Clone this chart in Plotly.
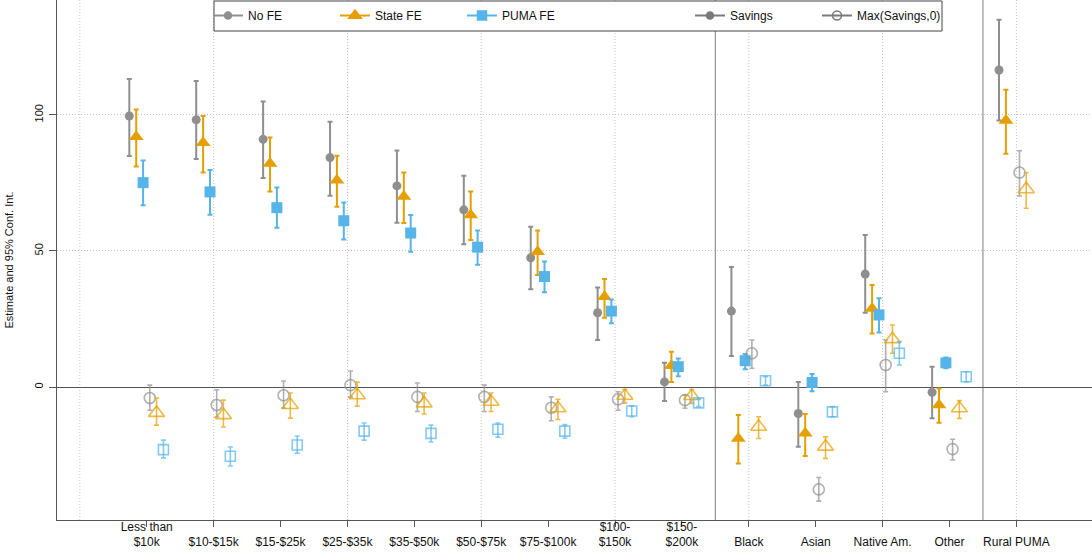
import numpy as np
import plotly.graph_objects as go

# ---------------- data ----------------
categories = ["Less than<br>$10k", "<br>$10-$15k", "<br>$15-$25k", "<br>$25-$35k", "<br>$35-$50k",
              "<br>$50-$75k", "<br>$75-$100k", "$100-<br>$150k", "$150-<br>$200k", "<br>Black",
              "<br>Asian", "<br>Native Am.", "<br>Other", "<br>Rural PUMA"]

no_fe = [99.6, 98.2, 91.0, 84.3, 73.9, 65.1, 47.5, 27.3, 1.9, 27.9, -9.7, 41.5, -1.9, 116.5]
no_fe_lo = [84.9, 83.8, 76.8, 70.3, 60.4, 52.5, 35.9, 17.3, -5.1, 11.4, -21.9, 27.3, -11.5, 97.9]
no_fe_hi = [113.2, 112.4, 104.9, 97.5, 86.9, 77.6, 58.9, 36.6, 8.9, 44.1, 1.9, 55.9, 7.5, 134.9]

state_fe = [92.0, 89.8, 82.1, 76.0, 70.0, 63.2, 49.7, 33.2, 7.8, -18.9, -17.0, 28.9, -6.6, 97.9]
state_fe_lo = [81.0, 78.8, 71.8, 66.2, 60.3, 54.0, 41.2, 25.5, 1.9, -28.1, -25.3, 19.7, -13.1, 85.7]
state_fe_hi = [102.0, 99.6, 91.7, 85.0, 78.8, 71.8, 57.5, 39.7, 13.0, -10.3, -9.9, 37.5, -0.5, 109.2]

puma_fe = [75.1, 71.7, 65.9, 61.1, 56.6, 51.4, 40.6, 27.9, 7.5, 9.7, 1.7, 26.5, 8.9, None]
puma_fe_lo = [66.8, 63.3, 58.5, 54.2, 49.7, 44.9, 34.8, 23.4, 4.0, 6.5, -1.5, 20.0, 6.9, None]
puma_fe_hi = [83.2, 79.7, 73.3, 67.8, 63.2, 57.5, 46.1, 32.2, 10.5, 12.1, 4.8, 32.6, 10.9, None]

max_no_fe = [-4.0, -6.6, -3.0, 0.7, -3.6, -3.6, -7.6, -4.5, -4.8, 12.4, -37.6, 8.1, -22.8, 78.8]
max_no_fe_lo = [-8.5, -11.0, -7.7, -3.7, -9.0, -9.0, -12.4, -8.5, -7.8, 6.9, -41.9, -1.7, -26.8, 70.2]
max_no_fe_hi = [0.7, -1.0, 2.2, 5.9, 1.5, 0.7, -3.6, -1.7, -2.9, 17.3, -33.2, 17.3, -19.2, 86.8]

max_state_fe = [-9.5, -10.3, -6.6, -3.0, -6.0, -5.4, -7.8, -3.2, -3.3, -14.6, -21.9, 17.6, -7.8, 72.7]
max_state_fe_lo = [-14.0, -14.7, -11.4, -7.0, -9.9, -9.0, -11.9, -5.9, -6.0, -18.9, -26.2, 12.4, -11.5, 65.7]
max_state_fe_hi = [-4.0, -4.8, -2.2, 1.8, -2.2, -2.2, -4.5, -0.9, -0.9, -10.9, -18.3, 22.8, -5.0, 78.8]

max_puma_fe = [-23.0, -25.4, -21.3, -16.2, -17.0, -15.5, -16.2, -8.8, -5.8, 2.3, -9.1, 12.4, 3.8, None]
max_puma_fe_lo = [-26.0, -29.0, -24.3, -19.5, -20.2, -18.4, -18.8, -10.9, -7.2, 0.7, -10.9, 8.1, 1.9, None]
max_puma_fe_hi = [-19.5, -22.0, -18.0, -13.2, -14.0, -13.2, -13.8, -6.9, -4.5, 3.8, -7.2, 16.7, 5.6, None]

y_ticks = [0, 50, 100]

# ---------------- style ----------------
GRAY = "#8f8f8f"
ORANGE = "#E69F00"
BLUE = "#56B4E9"
FONT = "Liberation Sans, Arial, sans-serif"

def arr(v):
    return np.array([np.nan if a is None else a for a in v], dtype=float)

pos = np.arange(1, len(categories) + 1, dtype=float)

series = [
    # values, lo, hi, offset, symbol, color, size, marker line width, error line width
    (no_fe, no_fe_lo, no_fe_hi, -0.26, "circle", GRAY, 9, 0, 2.0),
    (state_fe, state_fe_lo, state_fe_hi, -0.157, "triangle-up", ORANGE, 13, 0, 2.0),
    (puma_fe, puma_fe_lo, puma_fe_hi, -0.054, "square", BLUE, 11, 0, 2.0),
    (max_no_fe, max_no_fe_lo, max_no_fe_hi, 0.046, "circle-open", "rgba(143,143,143,0.7)", 11, 1.6, 1.6),
    (max_state_fe, max_state_fe_lo, max_state_fe_hi, 0.147, "triangle-up-open", "rgba(230,159,0,0.72)", 14, 1.6, 1.6),
    (max_puma_fe, max_puma_fe_lo, max_puma_fe_hi, 0.25, "square-open", "rgba(86,180,233,0.72)", 10, 1.6, 1.6),
]

fig = go.Figure()
for vals, lo, hi, off, sym, col, size, lw, elw in series:
    y = arr(vals)
    ylo = arr(lo)
    yhi = arr(hi)
    fig.add_trace(go.Scatter(
        x=pos + off, y=y, mode="markers", showlegend=False, hoverinfo="skip",
        marker=dict(symbol=sym, color=col, size=size, line=dict(width=lw, color=col)),
        error_y=dict(type="data", symmetric=False, array=yhi - y, arrayminus=y - ylo,
                     color=col, thickness=elw, width=2.5),
    ))

# legend entries
leg1 = [("No FE", "circle", GRAY, 7), ("State FE", "triangle-up", ORANGE, 11), ("PUMA FE", "square", BLUE, 9)]
leg2 = [("Savings", "circle", "#7a7a7a", 7), ("Max(Savings,0)", "circle-open", "#7a7a7a", 9)]
for name, sym, col, sz in leg1:
    fig.add_trace(go.Scatter(x=[None], y=[None], mode="lines+markers", name=name, legend="legend",
                             line=dict(color=col, width=2),
                             marker=dict(symbol=sym, color=col, size=sz, line=dict(width=1.5, color=col))))
for name, sym, col, sz in leg2:
    fig.add_trace(go.Scatter(x=[None], y=[None], mode="lines+markers", name=name, legend="legend2",
                             line=dict(color=col, width=2),
                             marker=dict(symbol=sym, color=col, size=sz, line=dict(width=1.5, color=col))))

W, H = 1092, 552
ML, MR, MT, MB = 57, 0, 0, 32
pw, ph = W - ML - MR, H - MT - MB

def px_x(p):
    return (p - ML) / pw

def px_y(p):
    return 1 - (p - MT) / ph

shapes = []
# vertical dotted grid every two categories
for g in range(0, 16, 2):
    shapes.append(dict(type="line", xref="x", yref="paper", x0=g, x1=g, y0=0, y1=1,
                       line=dict(color="#c4c4c4", width=1, dash="1px,2px"), layer="below"))
# group separators
for s in (9.5, 13.5):
    shapes.append(dict(type="line", xref="x", yref="paper", x0=s, x1=s, y0=0, y1=1,
                       line=dict(color="#9a9a9a", width=1.3), layer="below"))
# legend box
shapes.append(dict(type="rect", xref="paper", yref="paper", x0=px_x(214), x1=px_x(942),
                   y0=px_y(31), y1=px_y(1), line=dict(color="#444444", width=1),
                   fillcolor="white", layer="above"))

fig.update_layout(
    width=W, height=H,
    margin=dict(l=ML, r=MR, t=MT, b=MB, autoexpand=False),
    plot_bgcolor="white", paper_bgcolor="white",
    font=dict(family=FONT, size=12, color="#111111"),
    shapes=shapes,
    xaxis=dict(range=[-0.341, 15.13], tickmode="array", tickvals=list(pos), ticktext=categories,
               showgrid=False, zeroline=False, showline=True, linecolor="#555555", linewidth=1.3,
               ticks="outside", ticklen=6, tickcolor="#555555", tickfont=dict(size=12), tickangle=0,
               automargin=False, ticklabelstandoff=-11),
    yaxis=dict(range=[-48.84, 142.2], tickmode="array", tickvals=y_ticks, tickangle=-90,
               showgrid=True, griddash="1px,2px", gridcolor="#c4c4c4", gridwidth=1,
               zeroline=True, zerolinecolor="#555555", zerolinewidth=1.3,
               showline=True, linecolor="#555555", linewidth=1.3,
               ticks="outside", ticklen=7, tickcolor="#555555", tickfont=dict(size=11),
               automargin=False, ticklabelstandoff=1,
               title=dict(text="Estimate and 95% Conf. Int.", font=dict(size=11), standoff=17)),
    legend=dict(orientation="h", x=px_x(208), xanchor="left", y=px_y(1), yanchor="top",
                bgcolor="rgba(0,0,0,0)", borderwidth=0, font=dict(size=12),
                entrywidth=82, entrywidthmode="pixels", itemclick=False),
    legend2=dict(orientation="h", x=px_x(690), xanchor="left", y=px_y(1), yanchor="top",
                 bgcolor="rgba(0,0,0,0)", borderwidth=0, font=dict(size=12),
                 entrywidth=82, entrywidthmode="pixels", itemclick=False),
)

fig.write_html("out.html", config={"displayModeBar": False},
               post_script="document.body.style.margin='0px';document.body.style.padding='0px';")
